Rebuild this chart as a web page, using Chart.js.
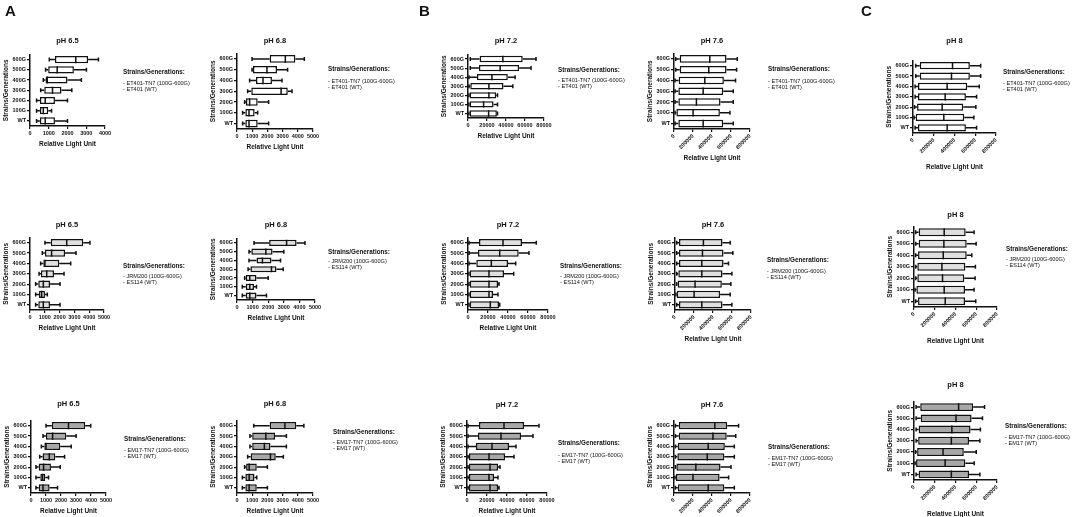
<!DOCTYPE html>
<html>
<head>
<meta charset="utf-8">
<script src="https://cdn.jsdelivr.net/npm/chart.js@4.4.1/dist/chart.umd.min.js"></script>
<style>
body{margin:0;background:#fff;width:1084px;height:517px;overflow:hidden;position:relative}
canvas{position:absolute}
</style>
</head>
<body>
<canvas id="overlay" width="1084" height="517" style="left:0;top:0;z-index:2"></canvas>
<script>
/* DATA */
const generations=["600G","500G","400G","300G","200G","100G","WT"];
const ticks4k=[0,1000,2000,3000,4000];
const ticks5k=[0,1000,2000,3000,4000,5000];
const ticks80k=[0,20000,40000,60000,80000];
const ticks800k=[0,200000,400000,600000,800000];
const legendHeader="Strains/Generations:";
const strainsET=["- ET401-TN7 (100G-600G)","- ET401 (WT)"];
const strainsJRM=["- JRM200 (100G-600G)","- ES114 (WT)"];
const strainsEM=["- EM17-TN7 (100G-600G)","- EM17 (WT)"];

// [min, q1, median, q3, max] for 600G..WT
const et401_ph65=[[1030,1330,2440,3100,3650],[830,970,1450,2340,3010],[710,830,920,2000,2740],[570,760,1200,1680,2230],[350,530,810,1330,2000],[350,530,710,970,1150],[350,530,810,1330,2000]];
const et401_ph68=[[990,2150,3180,3840,4430],[990,1050,1970,2630,3330],[830,1250,1710,2300,2960],[700,940,2900,3340,3620],[500,590,830,1360,2080],[370,550,790,1160,1360],[370,550,790,1360,2080]];
const et401_ph72=[[2400,12200,36700,57600,71600],[2400,11500,33900,53800,66400],[1000,9400,25200,41900,49600],[1000,2400,22000,37400,47200],[1000,1700,22000,29700,31100],[1000,1700,16400,26900,31100],[1000,1700,21700,30400,31100]];
const et401_ph76=[[18000,60000,377000,553000,666000],[18000,60000,366000,553000,659000],[11000,49000,324000,525000,648000],[11000,46000,307000,518000,624000],[11000,46000,236000,490000,624000],[11000,25000,201000,483000,589000],[11000,46000,307000,518000,624000]];
const et401_ph8=[[26000,65000,381000,548000,652000],[26000,65000,371000,548000,652000],[20000,48000,329000,523000,639000],[20000,48000,310000,510000,613000],[15000,39000,281000,484000,606000],[10000,26000,297000,494000,587000],[20000,48000,329000,510000,613000]];

const jrm_ph65=[[1010,1400,2480,3600,4050],[830,1010,1460,2370,3110],[720,900,1010,1980,2750],[610,740,1130,1620,2300],[380,560,900,1350,2030],[380,610,790,1010,1170],[380,560,900,1350,2030]];
const jrm_ph68=[[1090,2060,3180,3820,4360],[770,920,1850,2280,3000],[770,1250,1630,2210,2790],[710,860,2210,2530,2960],[490,560,820,1250,2000],[340,560,820,1090,1250],[340,560,820,1250,1890]];
const jrm_ph72=[[1000,11000,35000,54000,68300],[1000,10000,31700,50700,61000],[1000,8300,23300,40000,47700],[1000,1700,21000,36000,45700],[1000,1700,21000,30000,31000],[1000,1700,21000,25000,30000],[1000,1700,22300,31000,31700]];
const jrm_ph76=[[18000,42000,299000,500000,581000],[18000,42000,289000,511000,609000],[18000,42000,282000,511000,563000],[18000,35000,282000,500000,599000],[18000,28000,211000,493000,588000],[10000,18000,201000,475000,581000],[18000,42000,282000,500000,599000]];
const jrm_ph8=[[16000,45000,291000,498000,579000],[16000,45000,288000,508000,599000],[16000,39000,282000,508000,557000],[16000,32000,269000,495000,592000],[16000,32000,275000,485000,589000],[10000,23000,291000,492000,579000],[16000,39000,301000,492000,595000]];

const em17_ph65=[[1000,1390,2500,3610,3980],[800,1000,1440,2350,3010],[690,890,1000,1950,2680],[580,770,1220,1620,2240],[330,510,840,1330,1950],[330,620,770,950,1170],[330,510,800,1240,1770]];
const em17_ph68=[[1100,2150,3150,3900,4400],[850,1000,1900,2500,3250],[850,1000,1800,2200,3250],[700,900,2200,2550,3050],[500,600,800,1300,2000],[350,550,800,1150,1300],[350,550,800,1300,2000]];
const em17_ph72=[[1000,12000,37000,57000,72000],[1000,11000,34000,54000,66000],[1000,9000,25000,42000,49000],[1000,2000,22000,38000,47000],[1000,2000,23000,31000,33000],[1000,2000,22000,27000,31000],[1000,2000,23000,31000,32000]];
const em17_ph76=[[15000,50000,430000,560000,680000],[15000,50000,410000,555000,650000],[15000,40000,360000,535000,635000],[15000,35000,350000,530000,635000],[15000,25000,230000,490000,600000],[10000,20000,200000,480000,575000],[15000,40000,360000,530000,635000]];
const em17_ph8=[[20000,60000,430000,570000,680000],[20000,65000,405000,555000,660000],[20000,45000,365000,545000,640000],[20000,40000,360000,530000,635000],[15000,30000,280000,480000,600000],[10000,20000,300000,495000,580000],[20000,45000,360000,530000,635000]];

const fills=["#ffffff","#e0e0e0","#a8a8a8"];
const FONT="'Liberation Sans', Arial, sans-serif";

/* LAYOUT: x0 = value 0, x1 = last tick, yT/yB = plot top/bottom, tY = title y, xh = x axis block, lg = legend x, header y, first item y */
const panels=[
 {s:et401_ph65,t:"pH 6.5",tk:ticks4k,f:0,lab:strainsET,x0:30,x1:105,yT:54,yB:125,tY:40,xh:22,lg:[123,72,83]},
 {s:et401_ph68,t:"pH 6.8",tk:ticks5k,f:0,lab:strainsET,x0:237,x1:313,yT:53,yB:128,tY:40,xh:22,lg:[328,69,81]},
 {s:et401_ph72,t:"pH 7.2",tk:ticks80k,f:0,lab:strainsET,x0:468,x1:544,yT:54,yB:117,tY:40,xh:22,lg:[558,70,80]},
 {s:et401_ph76,t:"pH 7.6",tk:ticks800k,f:0,lab:strainsET,x0:674,x1:750,yT:53,yB:128,tY:40,xh:33,rot:1,lg:[768,69,81]},
 {s:et401_ph8,t:"pH 8",tk:ticks800k,f:0,lab:strainsET,x0:913,x1:996,yT:60,yB:132,tY:40,xh:38,rot:1,lg:[1003,72,83]},

 {s:jrm_ph65,t:"pH 6.5",tk:ticks5k,f:1,lab:strainsJRM,x0:30,x1:104,yT:237,yB:309,tY:224,xh:22,lg:[123,266,276]},
 {s:jrm_ph68,t:"pH 6.8",tk:ticks5k,f:1,lab:strainsJRM,x0:237,x1:315,yT:238,yB:299,tY:224,xh:22,lg:[328,252,261]},
 {s:jrm_ph72,t:"pH 7.2",tk:ticks80k,f:1,lab:strainsJRM,x0:468,x1:548,yT:237,yB:309,tY:224,xh:22,lg:[560,266,276]},
 {s:jrm_ph76,t:"pH 7.6",tk:ticks800k,f:1,lab:strainsJRM,x0:675,x1:751,yT:237,yB:309,tY:224,xh:33,rot:1,lg:[767,260,271]},
 {s:jrm_ph8,t:"pH 8",tk:ticks800k,f:1,lab:strainsJRM,x0:914,x1:997,yT:226,yB:306,tY:214,xh:38,rot:1,lg:[1006,249,259]},

 {s:em17_ph65,t:"pH 6.5",tk:ticks5k,f:2,lab:strainsEM,x0:31,x1:106,yT:420,yB:492,tY:403,xh:22,lg:[124,439,450]},
 {s:em17_ph68,t:"pH 6.8",tk:ticks5k,f:2,lab:strainsEM,x0:237,x1:313,yT:420,yB:492,tY:403,xh:22,lg:[333,432,442]},
 {s:em17_ph72,t:"pH 7.2",tk:ticks80k,f:2,lab:strainsEM,x0:467,x1:547,yT:420,yB:492,tY:404,xh:22,lg:[558,443,455]},
 {s:em17_ph76,t:"pH 7.6",tk:ticks800k,f:2,lab:strainsEM,x0:674,x1:750,yT:420,yB:492,tY:404,xh:33,rot:1,lg:[768,447,458]},
 {s:em17_ph8,t:"pH 8",tk:ticks800k,f:2,lab:strainsEM,x0:914,x1:997,yT:401,yB:479,tY:384,xh:38,rot:1,lg:[1005,426,437]}
];

/* whiskers + median from the scales */
const whiskers={
  id:"whiskers",
  afterDatasetsDraw(chart){
    const {ctx,scales:{x,y}}=chart;
    const ds=chart.data.datasets[0];
    const meta=chart.getDatasetMeta(0);
    ctx.save();
    ctx.strokeStyle="#111";
    ctx.lineWidth=1.5;
    ds.stats.forEach((s,i)=>{
      const cy=y.getPixelForValue(i);
      const h=meta.data[i].height;
      const px=v=>x.getPixelForValue(v);
      ctx.beginPath();
      ctx.moveTo(px(s[0]),cy);ctx.lineTo(px(s[1]),cy);
      ctx.moveTo(px(s[3]),cy);ctx.lineTo(px(s[4]),cy);
      ctx.moveTo(px(s[0]),cy-2);ctx.lineTo(px(s[0]),cy+2);
      ctx.moveTo(px(s[4]),cy-2);ctx.lineTo(px(s[4]),cy+2);
      ctx.moveTo(px(s[2]),cy-h/2);ctx.lineTo(px(s[2]),cy+h/2);
      ctx.stroke();
    });
    ctx.restore();
  }
};

/* overlay text: panel letters and the strain legends */
const octx=document.getElementById("overlay").getContext("2d");
octx.fillStyle="#111";
octx.textBaseline="middle";
octx.font="bold 15px "+FONT;
octx.fillText("A",5,12);
octx.fillText("B",419,12);
octx.fillText("C",861,12);

panels.forEach(p=>{
  const YW=28, PR=14;
  const tb=p.yT-p.tY-4.5;
  const T=tb+11;
  const cv=document.createElement("canvas");
  cv.width=p.x1-p.x0+YW+PR;
  cv.height=Math.round(T+(p.yB-p.yT)+p.xh);
  cv.style.left=(p.x0-YW)+"px";
  cv.style.top=(p.yT-T)+"px";
  document.body.appendChild(cv);

  const axisFont={family:FONT,size:5.5,weight:"bold"};
  const titleFont={family:FONT,size:6.5,weight:"bold"};
  const grid={display:true,drawOnChartArea:false,drawTicks:true,tickLength:3,color:"#111",lineWidth:1.2,offset:false};
  const border={display:true,color:"#111",width:1.5};

  new Chart(cv,{
    type:"bar",
    data:{
      labels:generations,
      datasets:[{
        data:p.s.map(s=>[s[1],s[3]]),
        stats:p.s,
        backgroundColor:fills[p.f],
        borderColor:"#111",
        borderWidth:1.5,
        borderSkipped:false,
        barPercentage:0.7,
        categoryPercentage:1
      }]
    },
    options:{
      responsive:false,
      animation:false,
      indexAxis:"y",
      layout:{padding:{left:0,right:PR,top:0,bottom:0}},
      plugins:{
        legend:{display:false},
        tooltip:{enabled:false},
        title:{display:true,text:p.t,fullSize:false,color:"#111",
          font:{family:FONT,size:7.5,weight:"bold"},padding:{top:2,bottom:tb}}
      },
      scales:{
        x:{
          type:"linear",min:0,max:p.tk[p.tk.length-1],
          afterBuildTicks:s=>{s.ticks=p.tk.map(v=>({value:v}))},
          afterFit:s=>{s.height=p.xh},
          grid:grid,border:border,
          ticks:{color:"#111",font:axisFont,padding:1,autoSkip:false,
            maxRotation:p.rot?45:0,minRotation:p.rot?45:0,callback:v=>String(v)},
          title:{display:true,text:"Relative Light Unit",color:"#111",font:titleFont,padding:0}
        },
        y:{
          afterFit:s=>{s.width=YW},
          grid:grid,border:border,
          ticks:{color:"#111",font:axisFont,padding:1,autoSkip:false},
          title:{display:true,text:"Strains/Generations",color:"#111",font:titleFont,padding:0}
        }
      }
    },
    plugins:[whiskers]
  });

  octx.font="bold 6.3px "+FONT;
  octx.fillText(legendHeader,p.lg[0],p.lg[1]);
  octx.font="5.6px "+FONT;
  octx.fillText(p.lab[0],p.lg[0],p.lg[2]);
  octx.fillText(p.lab[1],p.lg[0],p.lg[2]+6.5);
});
</script>
</body>
</html>
